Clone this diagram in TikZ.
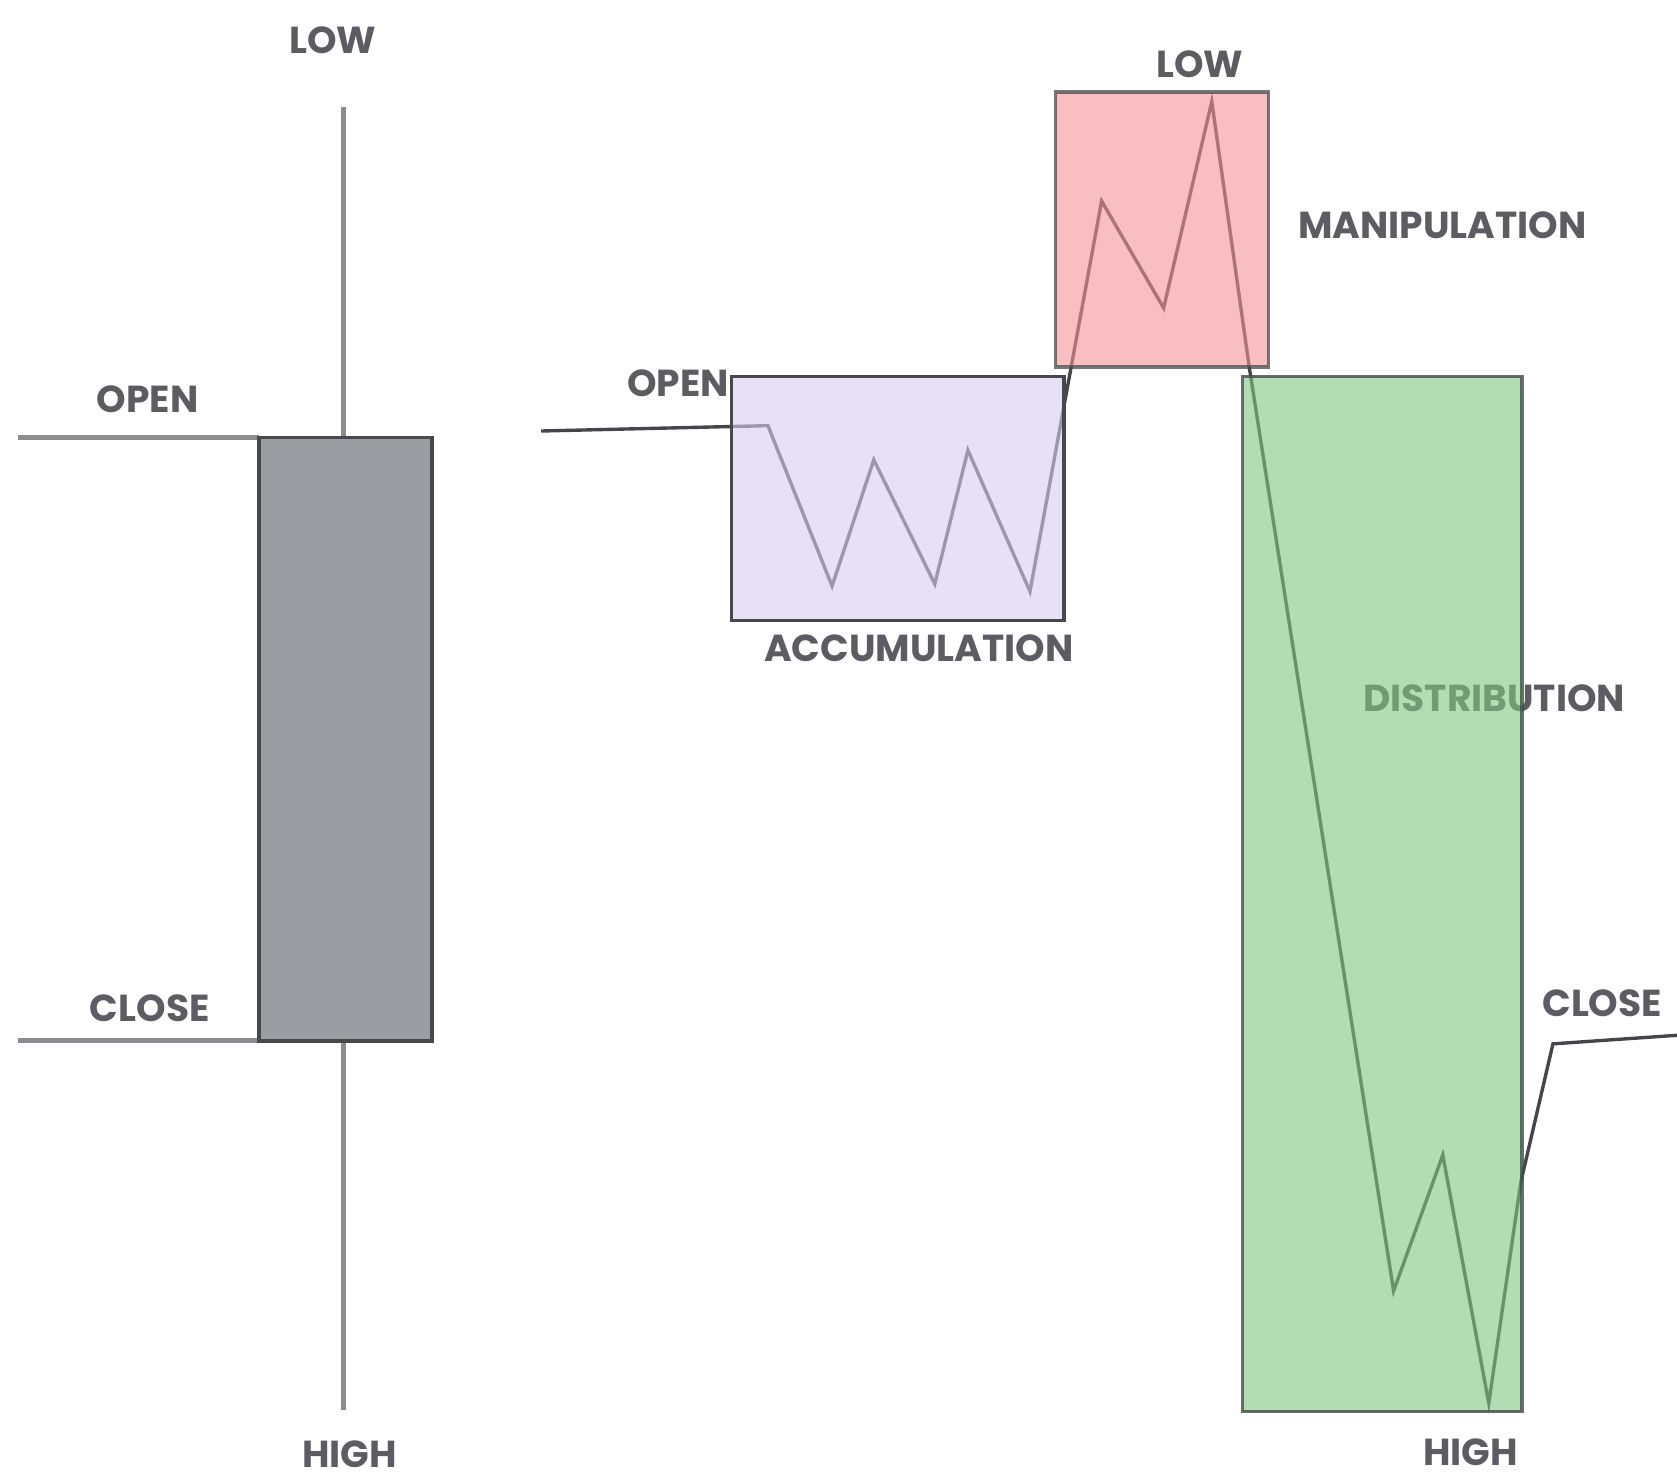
\documentclass[tikz,border=0pt]{standalone}
\usepackage{fontspec}
\setmainfont{Poppins}
\usetikzlibrary{positioning}
\definecolor{tgray}{RGB}{92,92,98}
\definecolor{wgray}{RGB}{140,140,144}
\definecolor{bgray}{RGB}{154,157,161}
\definecolor{edge}{RGB}{72,72,76}
\definecolor{ink}{RGB}{70,70,74}
\definecolor{mlav}{RGB}{215,205,240}
\definecolor{mred}{RGB}{243,147,152}
\definecolor{mgreen}{RGB}{127,197,127}
\tikzset{lbl/.style = {font=\bfseries\fontsize{10}{12}\selectfont, text=tgray, inner sep=0}}
\tikzset{zone/.style = {opacity=0.6}}
\tikzset{wick/.style = {draw=wgray, line width=1.2pt}}
\tikzset{price/.style = {draw=ink, line width=0.9pt, line join=miter}}
\tikzset{rim/.style = {draw=edge, line width=0.9pt}}

\begin{document}
\begin{tikzpicture}
  \useasboundingbox (0,0) rectangle (15.68,13.85);
  % labels first, the zones are laid over them
  \node[lbl] (lowa) at (3.11,13.47) {LOW};
  \node[lbl] (opena) at (1.38,10.12) {OPEN};
  \node[lbl] (closea) at (1.40,4.42) {CLOSE};
  \node[lbl] (higha) at (3.27,0.25) {HIGH};
  \node[lbl] (openb) at (6.34,10.27) {OPEN};
  \node[lbl] (accu) at (8.59,7.79) {ACCUMULATION};
  \node[lbl] (lowb) at (11.22,13.25) {LOW};
  \node[lbl, anchor=west] (mani) at (12.13,11.74) {MANIPULATION};
  \node[lbl] (dist) at (13.97,7.32) {DISTRIBUTION};
  \node[lbl] (closeb) at (14.98,4.47) {CLOSE};
  \node[lbl] (highb) at (13.75,0.27) {HIGH};

  % candle
  \coordinate (wtop) at (3.21,12.85);
  \coordinate (wbot) at (3.21,0.67);
  \coordinate (btl) at (2.42,9.76);
  \coordinate (bbr) at (4.04,4.12);
  \coordinate (oend) at (0.17,9.76);
  \coordinate (cend) at (0.17,4.12);
  \draw[wick] (wtop) -- (wbot);
  \draw[wick] (oend) -- (btl);
  \draw[wick] (cend) -- (btl |- bbr);
  \filldraw[fill=bgray, draw=edge, line width=1pt] (btl) rectangle (bbr);

  % price path
  \foreach \n/\x/\y in {0/5.06/9.82, 1/7.18/9.87, 2/7.78/8.37, 3/8.17/9.55,
                        4/8.74/8.39, 5/9.05/9.64, 6/9.63/8.32, 7/10.30/11.97,
                        8/10.88/10.97, 9/11.33/12.90, 10/11.68/10.42, 11/13.03/1.78,
                        12/13.49/3.05, 13/13.92/0.73, 14/14.22/2.80, 15/14.52/4.09,
                        16/15.68/4.17}
    \coordinate (p\n) at (\x,\y);
  \draw[price] (p0) \foreach \n in {1,...,16} { -- (p\n) };

  % zones
  \coordinate (acc1) at (6.84,10.33);
  \coordinate (acc2) at (9.95,8.05);
  \coordinate (man1) at (9.87,12.99);
  \coordinate (man2) at (11.86,10.42);
  \coordinate (dis1) at (11.62,10.33);
  \coordinate (dis2) at (14.23,0.65);
  \fill[mlav, zone] (acc1) rectangle (acc2);
  \fill[mred, zone] (man1) rectangle (man2);
  \fill[mgreen, zone] (dis1) rectangle (dis2);
  \draw[rim] (acc1) rectangle (acc2);
  \draw[rim, opacity=0.75] (man1) rectangle (man2);
  \draw[rim, opacity=0.8] (dis1) rectangle (dis2);
\end{tikzpicture}
\end{document}
